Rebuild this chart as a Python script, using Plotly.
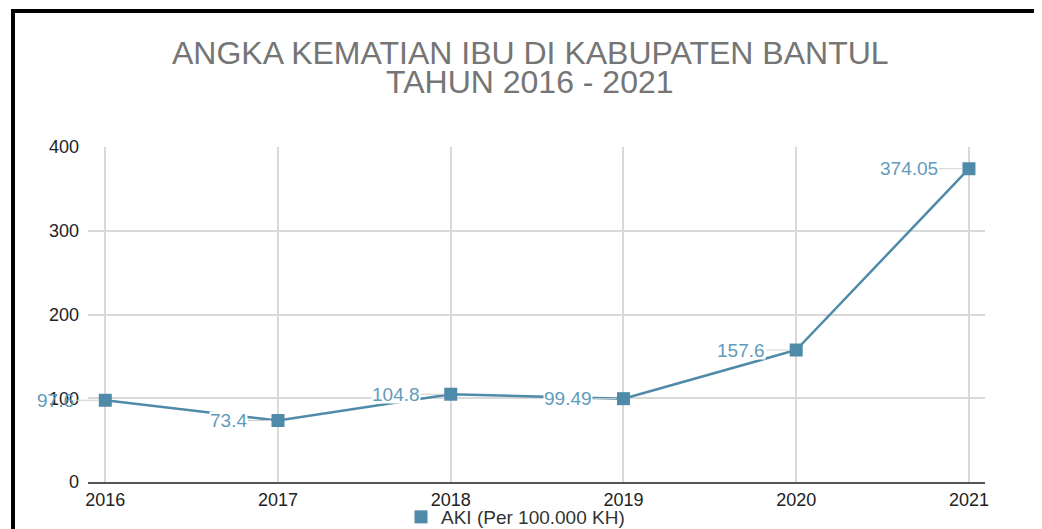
import plotly.graph_objects as go

years = [2016, 2017, 2018, 2019, 2020, 2021]
aki = [97.6, 73.4, 104.8, 99.49, 157.6, 374.05]
labels = ["97.6", "73.4", "104.8", "99.49", "157.6", "374.05"]
title_lines = ["ANGKA KEMATIAN IBU DI KABUPATEN BANTUL", "TAHUN 2016 - 2021"]
series_name = "AKI (Per 100.000 KH)"
yticks = [0, 100, 200, 300, 400]

OFF = 8  # page body margin
W, H = 1042, 545
L, T = 88 - OFF, 147 - OFF
R = W - (985 - OFF)
B = H - (482 - OFF)
pw, ph = W - L - R, H - T - B

def px_x(screen):
    return (screen - OFF - L) / pw

def px_y(screen):
    return (H - B - (screen - OFF)) / ph

line_color = "#4f8aa9"
label_color = "#5f9bbb"
font_family = "Liberation Sans, Arial, sans-serif"

fig = go.Figure()
fig.add_trace(go.Scatter(
    x=years, y=aki, mode="lines+markers",
    line=dict(color=line_color, width=2.5),
    marker=dict(symbol="square", size=13, color=line_color),
    showlegend=False, hoverinfo="skip",
))
fig.add_trace(go.Scatter(
    x=[None], y=[None], mode="markers", name=series_name,
    marker=dict(symbol="square", size=13, color=line_color),
))

for i, (xv, yv, lab) in enumerate(zip(years, aki, labels)):
    fig.add_annotation(
        x=xv, y=yv, xref="x", yref="y", text=lab,
        showarrow=True, arrowhead=0, arrowwidth=1, arrowcolor="#d0d0d0",
        ax=-30, ay=0, xanchor="right", yanchor="middle",
        font=dict(family=font_family, size=19, color=label_color),
        bgcolor="rgba(0,0,0,0)" if i == 0 else "white", borderpad=0, standoff=7,
        height=17, valign="middle",
    )

for txt, ypx in zip(title_lines, [53, 82]):
    fig.add_annotation(
        x=px_x(530), y=px_y(ypx), xref="paper", yref="paper", text=txt,
        showarrow=False, xanchor="center", yanchor="middle",
        font=dict(family=font_family, size=32, color="#757575"),
    )

fig.add_shape(
    type="rect", xref="paper", yref="paper",
    x0=px_x(13), x1=px_x(1038), y0=px_y(575), y1=px_y(11),
    line=dict(color="black", width=4), fillcolor="rgba(0,0,0,0)", layer="above",
)

fig.update_layout(
    width=W, height=H,
    margin=dict(l=L, r=R, t=T, b=B),
    paper_bgcolor="white", plot_bgcolor="white",
    font=dict(family=font_family, color="#222222"),
    showlegend=True,
    legend=dict(
        orientation="h", x=px_x(401), y=px_y(517), xanchor="left", yanchor="middle",
        font=dict(family=font_family, size=19, color="#333333"),
        bgcolor="rgba(0,0,0,0)",
    ),
    xaxis=dict(
        range=[2015.9, 2021.093], tickvals=years, ticktext=[str(y) for y in years],
        showgrid=True, gridcolor="#d9d9d9", gridwidth=1.5,
        showline=True, linecolor="#555555", linewidth=2,
        zeroline=False, ticks="", tickfont=dict(size=18, color="#222222"),
        fixedrange=True,
    ),
    yaxis=dict(
        range=[0, 400], tickvals=yticks,
        showgrid=True, gridcolor="#d9d9d9", gridwidth=1.5,
        showline=False, zeroline=False, ticks="",
        ticklabelstandoff=8,
        tickfont=dict(size=18, color="#222222"),
        fixedrange=True,
    ),
)

fig.write_html("out.html")
